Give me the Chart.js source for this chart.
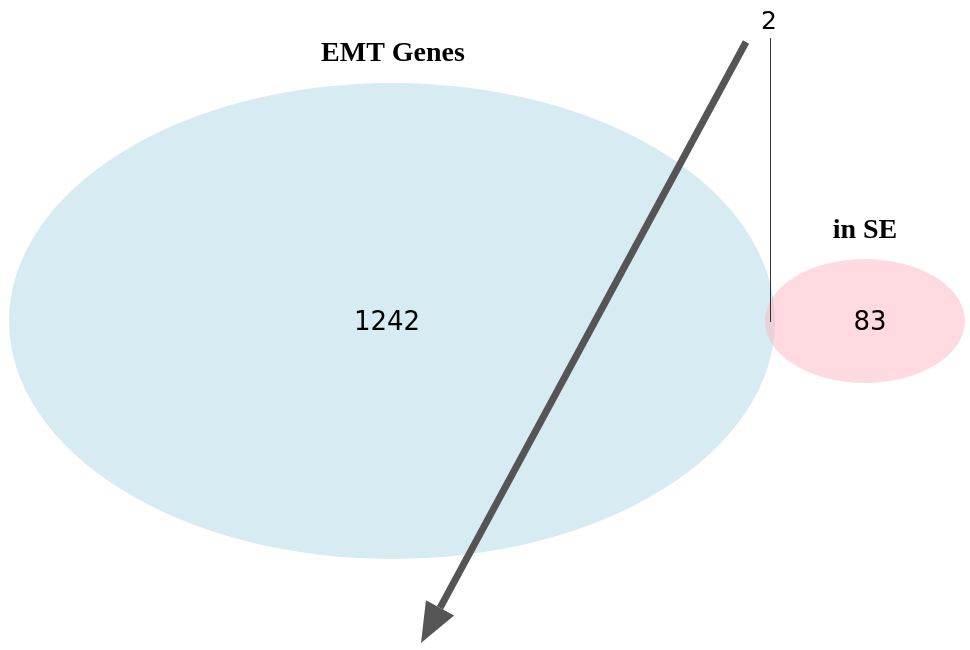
<!DOCTYPE html>
<html>
<head>
<meta charset="utf-8">
<script src="https://cdn.jsdelivr.net/npm/chart.js@4/dist/chart.umd.min.js"></script>
<style>
  html, body { margin: 0; padding: 0; background: #fff; }
  #wrap { width: 970px; height: 650px; }
</style>
</head>
<body>
<div id="wrap"><canvas id="venn"></canvas></div>
<script>
// set names and region counts
const setNames = ['EMT Genes', 'in SE'];
const setCounts = [1242, 83];
const overlapCount = 2;

// layout in axis units (axes run 0..970 and 0..650)
const centersX = [392, 865];
const centersY = [321, 321];
const radiiX = [383, 100];
const radiiY = [238, 62];
const fills = ['rgba(173, 216, 230, 0.5)', 'rgba(255, 182, 193, 0.5)'];

const vennPlugin = {
  id: 'venn',
  beforeDatasetsDraw(chart) {
    const ctx = chart.ctx;
    const xs = chart.scales.x;
    const ys = chart.scales.y;
    const px = v => xs.getPixelForValue(v);
    const py = v => ys.getPixelForValue(v);

    ctx.save();
    setNames.forEach((name, i) => {
      const cx = px(centersX[i]);
      const cy = py(centersY[i]);
      const rx = Math.abs(px(centersX[i] + radiiX[i]) - cx);
      const ry = Math.abs(py(centersY[i] + radiiY[i]) - cy);
      ctx.beginPath();
      ctx.ellipse(cx, cy, rx, ry, 0, 0, Math.PI * 2);
      ctx.fillStyle = fills[i];
      ctx.fill();
    });

    // set titles
    ctx.fillStyle = '#000';
    ctx.textAlign = 'center';
    ctx.textBaseline = 'middle';
    ctx.font = 'bold 28px "Liberation Serif", "Times New Roman", serif';
    ctx.fillText(setNames[0], px(393), py(54));
    ctx.fillText(setNames[1], px(865), py(231));

    // counts
    ctx.font = '26px "DejaVu Sans", sans-serif';
    ctx.fillText(String(setCounts[0]), px(387), py(323));
    ctx.fillText(String(setCounts[1]), px(870), py(323));

    // overlap count with leader line
    ctx.font = '25px "DejaVu Sans", sans-serif';
    ctx.fillText(String(overlapCount), px(769), py(22));
    ctx.beginPath();
    ctx.moveTo(px(770) + 0.5, py(38));
    ctx.lineTo(px(770) + 0.5, py(322));
    ctx.strokeStyle = '#333';
    ctx.lineWidth = 1;
    ctx.stroke();

    // big arrow
    const x0 = px(746), y0 = py(42), x1 = px(421), y1 = py(643);
    const ang = Math.atan2(y1 - y0, x1 - x0);
    const headLen = 40, headHalf = 16;
    const bx = x1 - headLen * Math.cos(ang);
    const by = y1 - headLen * Math.sin(ang);
    ctx.strokeStyle = '#555';
    ctx.fillStyle = '#555';
    ctx.lineWidth = 7;
    ctx.beginPath();
    ctx.moveTo(x0, y0);
    ctx.lineTo(bx, by);
    ctx.stroke();
    ctx.beginPath();
    ctx.moveTo(x1, y1);
    ctx.lineTo(bx + headHalf * Math.sin(ang), by - headHalf * Math.cos(ang));
    ctx.lineTo(bx - headHalf * Math.sin(ang), by + headHalf * Math.cos(ang));
    ctx.closePath();
    ctx.fill();
    ctx.restore();
  }
};

new Chart(document.getElementById('venn'), {
  type: 'scatter',
  data: {
    datasets: [{
      data: centersX.map((x, i) => ({ x, y: centersY[i] })),
      pointRadius: 0
    }]
  },
  options: {
    responsive: true,
    maintainAspectRatio: false,
    animation: false,
    layout: { padding: 0 },
    plugins: { legend: { display: false }, tooltip: { enabled: false } },
    scales: {
      x: { type: 'linear', min: 0, max: 970, display: false },
      y: { type: 'linear', min: 0, max: 650, reverse: true, display: false }
    }
  },
  plugins: [vennPlugin]
});
</script>
</body>
</html>
